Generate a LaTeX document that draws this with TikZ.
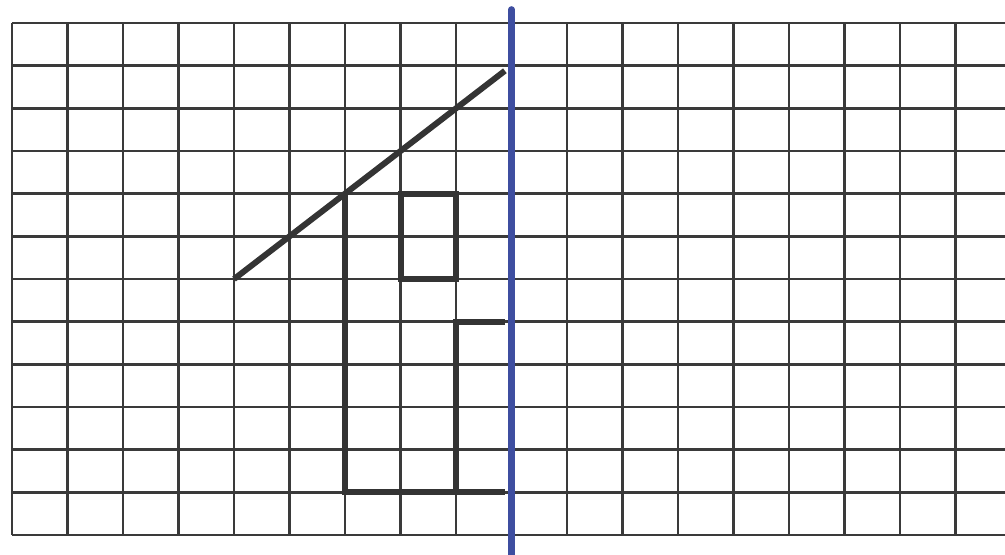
\documentclass[tikz,border=0pt]{standalone}
\usepackage{tikz}
\definecolor{randblau}{RGB}{62,78,160}
\definecolor{gitter}{RGB}{58,58,58}
\begin{document}
\begin{tikzpicture}[x=1.11cm,y=-0.8534cm]
				\useasboundingbox (-0.216,-0.539) rectangle (17.89,12.445);
				\begin{scope}[line width=1.5pt,color=gitter]
					% senkrechte Linien
					\foreach \i in {0,...,17} \draw (\i,0) to (\i,12);
					% waagrechte Linien
					\foreach \j in {0,...,12} \draw (0,\j) to (17.89,\j);
				\end{scope}
				\begin{scope}[line width=3.4pt,color=gitter!90!black]
					% Dach
					\draw (4,6) to (8.88,1.12);
					% Haus
					\draw (6,4) to ++(0,7) to ++(2.88,0);
					\draw (8.88,7) to ++(-0.88,0) to ++(0,4);
					% Fenster
					\draw (7,4) to ++(1,0) to ++(0,2) to ++(-1,0) to cycle;
				\end{scope}
				% Spiegelachse
				\draw[line width=3.6pt,color=randblau,line cap=round] (9,-0.32) to (9,12.6);
			\end{tikzpicture}
\end{document}
